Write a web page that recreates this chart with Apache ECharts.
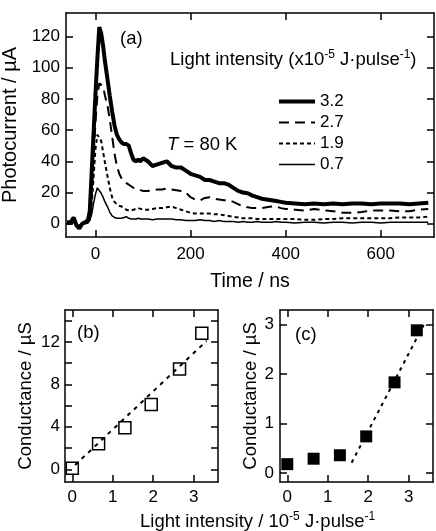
<!DOCTYPE html>
<html>
<head>
<meta charset="utf-8">
<script src="https://cdn.jsdelivr.net/npm/echarts@6/dist/echarts.min.js"></script>
<style>
html,body{margin:0;padding:0;background:#fff}
#main{width:436px;height:531px}
</style>
</head>
<body>
<div id="main"></div>
<script>
// (a) photocurrent transients
var timeNs = [-60,-52,-46,-40,-34,-28,-22,-16,-12,-8,-4,
    0,4,8,12,16,20,
    25,30,35,40,45,50,55,60,65,70,75,80,85,90,95,
    100,110,120,130,140,150,160,170,180,190,200,210,220,230,240,250,260,270,280,290,
    300,310,320,330,340,350,360,370,380,390,400,
    420,440,460,480,500,520,540,560,580,600,620,640,660,680,700];
var pc32 = [1,1,4,-1,-3,0,1,2,8,33,58,
    83,106,126,122,114,104,
    93,82,72,63,57,54,52,51,51,50,45,41,40,41,40,
    42,40,37,38,39,40,37,36,36,34,32,31,30,28,28,27,26,26,25,23,
    21,20,19.5,18,17,16,15.5,15,14.5,14,13.5,
    13,12.5,13,12.5,13,12.5,13,13,12.5,13,13,13,12.5,13,13.5];
var pc27 = [0.5,0,2,-1,-2,0,0.5,1,4,18,42,
    65,82,90,91,88,82,
    76,67,56,45,37,32,29,27,26,25,24,23,22.5,22,21.5,
    21,21,21.5,22,22,22.5,22,21.5,21,20,17,15.5,15,16.5,17,16,15.5,15,15,14,
    12.5,11,10.5,10,10,10,10.5,11,11,10,9.5,
    9,8.5,9.5,8.5,8,7,7,7.5,8.5,8.5,8.5,8,8,9,9.5];
var pc19 = [0.5,0,1.5,-1,-1.5,0,0.5,1,3,12,30,
    48,57,58,53,46,39,
    31,23,17,14,12.5,11.5,11,10,9,8.5,8.5,9,9.5,10,9.5,
    9,9,9.5,10,10,10.5,11,10,9,8,7,6.5,6.5,6.5,6.5,6,6,5.5,5,4.5,
    4,3.5,3.5,3.5,3,3,3,3,3,3,3,
    3,2.5,2.5,3,3,3.5,3.5,3.5,3.5,3.5,3.5,4,4,4,4.5];
var pc07 = [0,0,1,-1,-1,0,0,0.5,2,6,13,
    19,23,22,19.5,17,14,
    11,7.5,5,4,3.5,3.5,3.5,4,4.5,3.5,3,3,3,3.5,3,
    3,3,2.5,3,3,3,3,2.5,2.5,2,2,2,2.5,2,2,1.5,2,1.5,1.5,1.5,
    1,1.5,1,1,1.5,1,1,1,1.5,1,1,
    0.5,1,1,0.5,1,1,0.5,1,1,0.5,1,1,1,1,1];
var intensityNames = ['3.2', '2.7', '1.9', '0.7'];

// (b), (c) conductance vs light intensity
var intensity = [0, 0.65, 1.3, 1.95, 2.65, 3.2];
var condB = [0.1, 2.4, 3.9, 6.1, 9.45, 12.8];
var condC = [0.18, 0.29, 0.36, 0.74, 1.83, 2.88];
var fitB = [[0.07, 0.4], [3.32, 12.1]];
var fitC = [[1.59, 0.21], [3.39, 3.02]];

// ticks
var timeTicks = [0, 200, 400, 600];
var pcTicks = [0, 20, 40, 60, 80, 100, 120];
var intTicks = [0, 1, 2, 3];
var condBTicks = [0, 2, 4, 6, 8, 10, 12, 14];
var condBLabels = [0, 4, 8, 12];
var condCTicks = [0, 1, 2, 3];

var FONT = 'Liberation Sans, Arial, sans-serif';
var BLACK = '#000';

// line look of each curve: width, dash
var curveStyle = {
    '3.2': {width: 4, type: 'solid'},
    '2.7': {width: 2, type: [10, 6]},
    '1.9': {width: 2, type: [4, 3]},
    '0.7': {width: 1.5, type: 'solid'}
};

function pairs(xs, ys) {
    return xs.map(function (x, i) { return [x, ys[i]]; });
}

function axis(grid, pos, min, max, ticks, labels, extra) {
    var a = {
        type: 'value', gridIndex: grid, position: pos, min: min, max: max,
        axisLine: {show: true, onZero: false, lineStyle: {color: BLACK, width: 1.5}},
        axisTick: {show: true, inside: true, length: 7, customValues: ticks,
            lineStyle: {color: BLACK, width: 1.5}},
        axisLabel: {show: !!labels, customValues: labels || ticks, color: BLACK,
            fontSize: 17, fontFamily: FONT},
        splitLine: {show: false}
    };
    extra = extra || {};
    for (var k in extra) {
        if (k === 'labelMargin') a.axisLabel.margin = extra[k];
        else a[k] = extra[k];
    }
    return a;
}

function nameStyle(size) {
    return {color: BLACK, fontSize: size, fontFamily: FONT};
}

var myChart = echarts.init(document.getElementById('main'), null, {renderer: 'canvas'});

var xAxes = [
    axis(0, 'bottom', -62, 712, timeTicks, timeTicks,
        {name: 'Time / ns', nameLocation: 'middle', nameGap: 35, nameTextStyle: nameStyle(19.5), labelMargin: 9}),
    axis(0, 'top', -62, 712, timeTicks, null),
    axis(1, 'bottom', -0.18, 3.6, intTicks, intTicks, {labelMargin: 7}),
    axis(1, 'top', -0.18, 3.6, intTicks, null),
    axis(2, 'bottom', -0.18, 3.6, intTicks, intTicks, {labelMargin: 7}),
    axis(2, 'top', -0.18, 3.6, intTicks, null)
];
var yAxes = [
    axis(0, 'left', -8.5, 135, pcTicks, pcTicks,
        {name: 'Photocurrent / µA', nameLocation: 'middle', nameRotate: 90, nameGap: 38,
         nameTextStyle: nameStyle(20), labelMargin: 6}),
    axis(0, 'right', -8.5, 135, pcTicks, null),
    axis(1, 'left', -1.2, 15, condBTicks, condBLabels,
        {name: 'Conductance / µS', nameLocation: 'middle', nameRotate: 90, nameGap: 30,
         nameTextStyle: nameStyle(18.5), labelMargin: 5}),
    axis(1, 'right', -1.2, 15, condBTicks, null),
    axis(2, 'left', -0.18, 3.29, condCTicks, condCTicks,
        {name: 'Conductance / µS', nameLocation: 'middle', nameRotate: 90, nameGap: 15,
         nameTextStyle: nameStyle(18.5), labelMargin: 6}),
    axis(2, 'right', -0.18, 3.29, condCTicks, null)
];

function curve(name, ys) {
    var st = curveStyle[name];
    return {
        name: name, type: 'line', xAxisIndex: 0, yAxisIndex: 0,
        data: pairs(timeNs, ys), symbol: 'none', smooth: false,
        lineStyle: {color: BLACK, width: st.width, type: st.type},
        itemStyle: {color: BLACK}
    };
}

function label(text, left, top, size, rich) {
    return {
        text: text, left: left, top: top, padding: 0,
        textStyle: {color: BLACK, fontSize: size, fontFamily: FONT, fontWeight: 'normal',
            lineHeight: 22, rich: rich || {}}
    };
}

var supRich = {
    a: {fontSize: 18.5, fontFamily: FONT, color: BLACK, lineHeight: 22},
    s: {fontSize: 12, fontFamily: FONT, color: BLACK, lineHeight: 12, verticalAlign: 'top'},
    i: {fontSize: 18.5, fontFamily: FONT, color: BLACK, lineHeight: 22, fontStyle: 'italic'}
};

var option = {
    animation: false,
    backgroundColor: '#fff',
    grid: [
        {left: 66, top: 13, width: 368, height: 224, outerBoundsMode: 'none'},
        {left: 65, top: 310, width: 153, height: 172, outerBoundsMode: 'none'},
        {left: 280, top: 310, width: 153, height: 172, outerBoundsMode: 'none'}
    ],
    xAxis: xAxes,
    yAxis: yAxes,
    legend: {
        data: intensityNames.map(function (n) {
            return {name: n, lineStyle: {color: BLACK, width: curveStyle[n].width, type: curveStyle[n].type}};
        }),
        orient: 'vertical', left: 277, top: 93, padding: 0,
        itemWidth: 36, itemHeight: 14, itemGap: 4,
        itemStyle: {opacity: 0},
        textStyle: {color: BLACK, fontSize: 17, fontFamily: FONT, lineHeight: 14},
        selectedMode: false
    },
    title: [
        label('(a)', 120, 28, 18.5),
        label('{a|Light intensity (x10}{s|-5}{a| J·pulse}{s|-1}{a|)}', 170, 49, 18.5, supRich),
        label('{i|T}{a| = 80 K}', 167, 134, 18.5, supRich),
        label('(b)', 77, 322, 18.5),
        label('(c)', 295, 324, 18.5),
        label('{a|Light intensity / 10}{s|-5}{a| J·pulse}{s|-1}', 140, 511, 18.5, supRich)
    ],
    series: [
        curve('0.7', pc07),
        curve('1.9', pc19),
        curve('2.7', pc27),
        curve('3.2', pc32),
        {
            type: 'scatter', xAxisIndex: 2, yAxisIndex: 2, data: pairs(intensity, condB),
            symbol: 'rect', symbolSize: 12,
            itemStyle: {color: 'rgba(0,0,0,0)', borderColor: BLACK, borderWidth: 1.5, opacity: 1}
        },
        {
            type: 'line', xAxisIndex: 2, yAxisIndex: 2, data: fitB, symbol: 'none',
            lineStyle: {color: BLACK, width: 2, type: [4, 5]}
        },
        {
            type: 'scatter', xAxisIndex: 4, yAxisIndex: 4, data: pairs(intensity, condC),
            symbol: 'rect', symbolSize: 12, itemStyle: {color: BLACK, opacity: 1}
        },
        {
            type: 'line', xAxisIndex: 4, yAxisIndex: 4, data: fitC, symbol: 'none',
            lineStyle: {color: BLACK, width: 2, type: [3.5, 4.5]}
        }
    ]
};

myChart.setOption(option);
</script>
</body>
</html>
